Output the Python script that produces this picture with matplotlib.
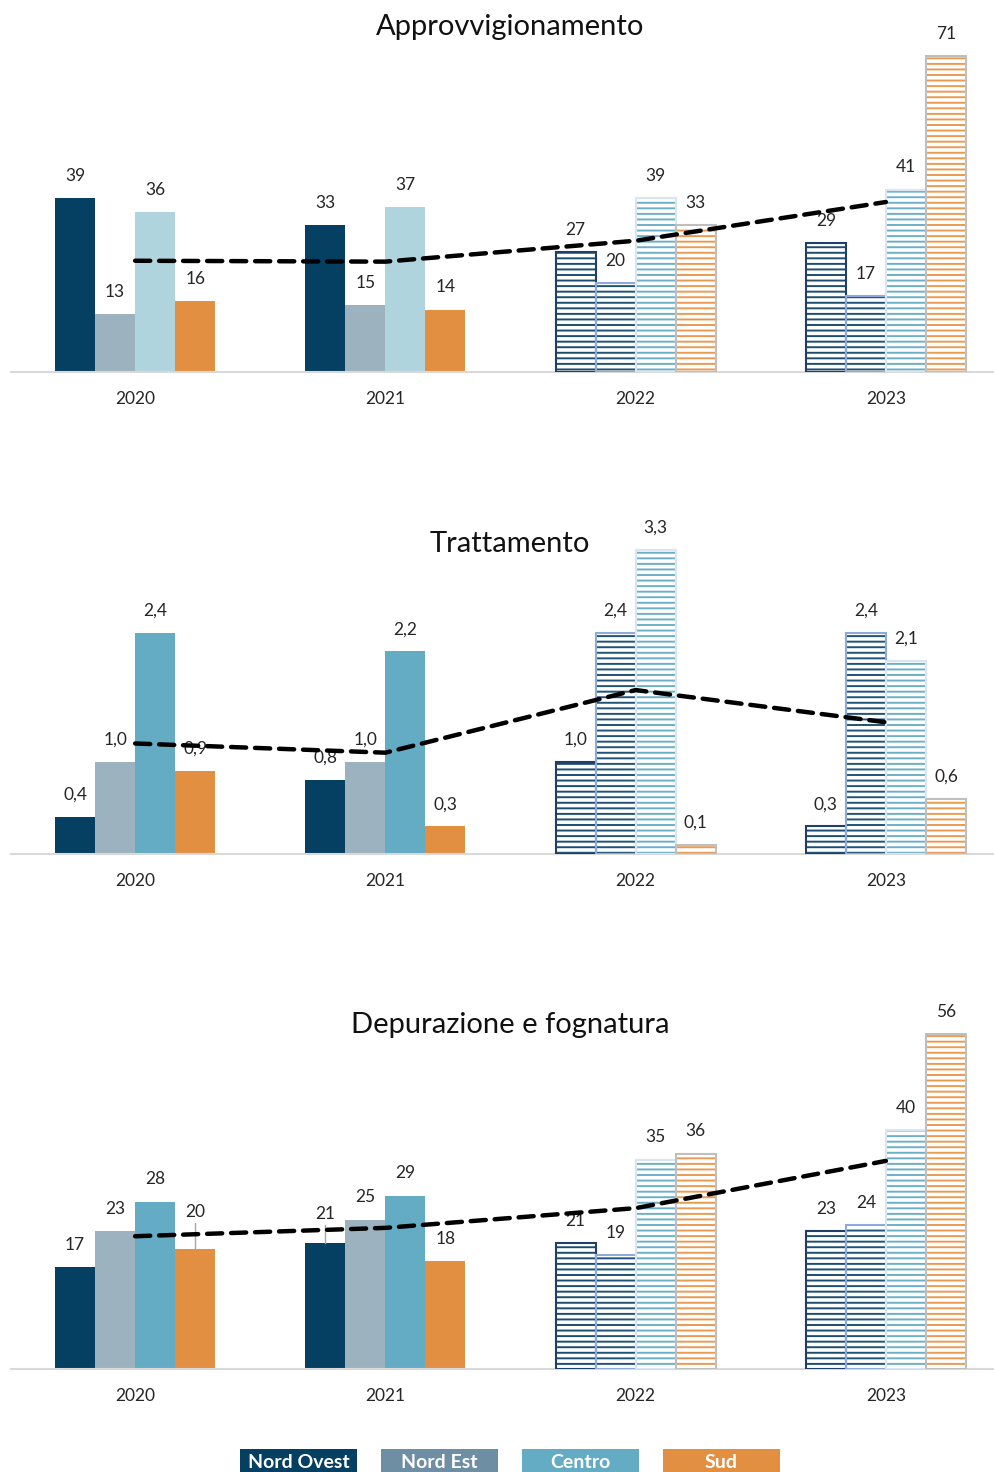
import matplotlib
matplotlib.use("Agg")
import matplotlib.pyplot as plt
from matplotlib.patches import Rectangle
import numpy as np

plt.rcParams["font.family"] = ["Lato", "DejaVu Sans"]
plt.rcParams["hatch.linewidth"] = 1.4

years = ["2020", "2021", "2022", "2023"]
regions = ["Nord Ovest", "Nord Est", "Centro", "Sud"]

# Approvvigionamento
appr_no = [39, 33, 27, 29]
appr_ne = [13, 15, 20, 17]
appr_ce = [36, 37, 39, 41]
appr_sud = [16, 14, 33, 71]
appr_trend = [25.0, 24.8, 29.5, 38.2]

# Trattamento
tratt_no = [0.4, 0.8, 1.0, 0.3]
tratt_ne = [1.0, 1.0, 2.4, 2.4]
tratt_ce = [2.4, 2.2, 3.3, 2.1]
tratt_sud = [0.9, 0.3, 0.1, 0.6]
tratt_trend = [1.2, 1.1, 1.78, 1.43]

# Depurazione e fognatura
dep_no = [17, 21, 21, 23]
dep_ne = [23, 25, 19, 24]
dep_ce = [28, 29, 35, 40]
dep_sud = [20, 18, 36, 56]
dep_trend = [22.2, 23.6, 26.9, 34.8]

# actual years (solid) vs forecast years (hatched)
solid_years = [0, 1]
hatched_years = [2, 3]

C_NO = "#053f62"
C_NE = "#9db2bf"
C_CE1 = "#b0d4de"
C_CE = "#64abc4"
C_SUD = "#e38f42"

# hatched-bar styles: (line colour, border colour)
H_STYLE = [
    ("#1b4d70", "#1f3f6a"),
    ("#1f5378", "#8eaadb"),
    ("#6cb0c8", "#d8e6f3"),
    ("#eb9a52", "#bfbfbf"),
]

W, H = 995, 1472
fig = plt.figure(figsize=(W / 100, H / 100), dpi=100)


def px_axes(left, top, right, bottom):
    return fig.add_axes([left / W, 1 - bottom / H, (right - left) / W, (bottom - top) / H])


def fmt_int(v):
    return f"{v:.0f}"


def fmt_dec(v):
    return f"{v:.1f}".replace(".", ",")


def ax_scale(ax):
    # points per data unit on the y axis
    bb = ax.get_position()
    h_pt = bb.height * H * 72 / 100
    lo, hi = ax.get_ylim()
    return h_pt / (hi - lo)


def draw_panel(ax, series, trend, ymax, centro_solid, fmt, label_shift=None):
    bw = 0.16
    x = np.arange(len(years))
    ax.set_xlim(-0.496, 3.436)
    ax.set_ylim(0, ymax)
    offs = [-1.5 * bw, -0.5 * bw, 0.5 * bw, 1.5 * bw]
    solid_cols = [C_NO, C_NE, centro_solid, C_SUD]
    for k, vals in enumerate(series):
        vals = np.asarray(vals, dtype=float)
        xs = x + offs[k]
        ax.bar(xs[solid_years], vals[solid_years], width=bw, color=solid_cols[k],
               linewidth=0, zorder=2)
        hc, ec = H_STYLE[k]
        ax.bar(xs[hatched_years], vals[hatched_years], width=bw, facecolor="white",
               edgecolor=hc, hatch="---", linewidth=0, zorder=2)
        ax.bar(xs[hatched_years], vals[hatched_years], width=bw, facecolor="none",
               edgecolor=ec, linewidth=1.5, zorder=3)
        for i, v in enumerate(vals):
            dy = 16
            if label_shift and (k, i) in label_shift:
                dy = label_shift[(k, i)]
                # leader line from a lifted label down to its bar
                ax.plot([xs[i], xs[i]], [v, v + (dy - 8) / ax_scale(ax)],
                        color="#a6a6a6", lw=1.0, zorder=4)
            ax.annotate(fmt(v), (xs[i], v), xytext=(0, dy), textcoords="offset points",
                        ha="center", va="center", fontsize=12.5, color="#262626",
                        zorder=5)
    ax.plot(x, trend, color="black", lw=3.2, ls=(0, (3.4, 2.0)),
            dash_capstyle="round", zorder=6)
    for s in ["left", "right", "top"]:
        ax.spines[s].set_visible(False)
    ax.spines["bottom"].set_color("#d9d9d9")
    ax.spines["bottom"].set_linewidth(1.5)
    ax.set_yticks([])
    ax.set_xticks(x)
    ax.set_xticklabels(years, fontsize=12.5, color="#262626")
    ax.tick_params(axis="x", length=0, pad=14)
    ax.patch.set_alpha(0)


ax1 = px_axes(11, 40, 995, 372)
draw_panel(ax1, [appr_no, appr_ne, appr_ce, appr_sud], appr_trend,
           (372 - 40) / 4.45, C_CE1, fmt_int)

ax2 = px_axes(11, 520, 995, 854)
draw_panel(ax2, [tratt_no, tratt_ne, tratt_ce, tratt_sud], tratt_trend,
           (854 - 520) / 92.1, C_CE, fmt_dec)

ax3 = px_axes(11, 1000, 995, 1369)
draw_panel(ax3, [dep_no, dep_ne, dep_ce, dep_sud], dep_trend,
           (1369 - 1000) / 5.98, C_CE, fmt_int,
           label_shift={(3, 0): 27, (0, 1): 21})

title_kw = dict(ha="center", va="center", fontsize=21, color="#111111")
fig.text(510 / W, 1 - 27 / H, "Approvvigionamento", **title_kw)
fig.text(510 / W, 1 - 544 / H, "Trattamento", **title_kw)
fig.text(510 / W, 1 - 1025 / H, "Depurazione e fognatura", **title_kw)

# legend boxes along the bottom edge
leg_cols = [C_NO, "#6e8ea3", C_CE, C_SUD]
leg_x = [240, 381, 522, 663]
for name, col, lx in zip(regions, leg_cols, leg_x):
    fig.patches.append(Rectangle((lx / W, 0), 117 / W, 23 / H, transform=fig.transFigure,
                                 facecolor=col, edgecolor="none"))
    fig.text((lx + 58.5) / W, 10 / H, name, ha="center", va="center", color="white",
             fontsize=14, fontweight="bold")

fig.savefig("out.png", dpi=100, facecolor="white")
